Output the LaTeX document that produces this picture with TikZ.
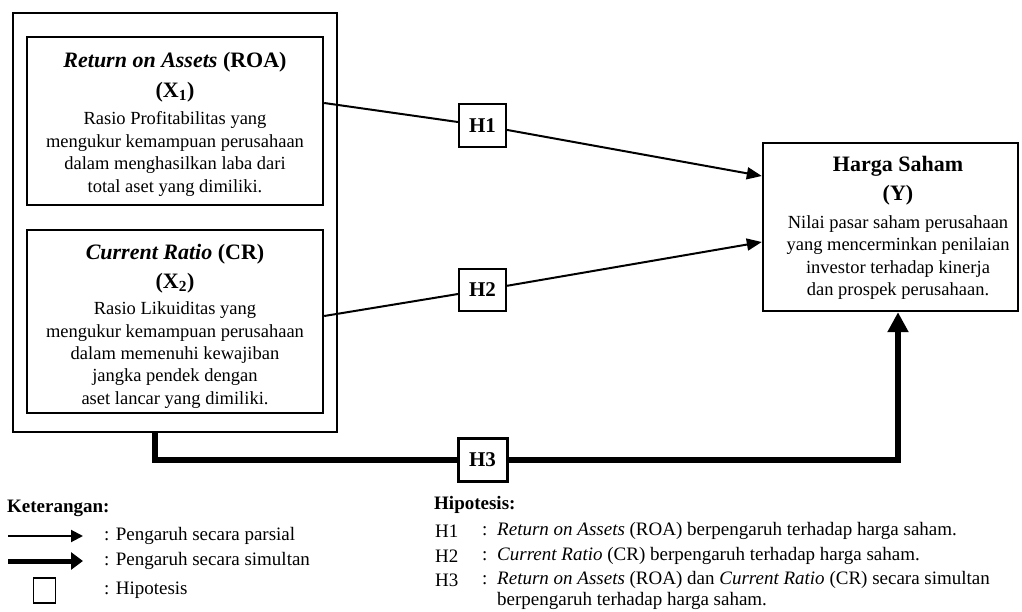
\documentclass[tikz,border=0pt]{standalone}
\usepackage{fontspec}
\setmainfont{Liberation Serif}
\usetikzlibrary{arrows.meta,calc}
\begin{document}
\begin{tikzpicture}[x=1pt,y=-1pt,
  outerbox/.style={draw,line width=2.6pt,inner sep=0pt},
  varbox/.style={draw,line width=2.4pt,inner sep=0pt},
  hbox/.style={draw,line width=2.2pt,inner sep=0pt,minimum width=47pt,minimum height=43pt,font=\fontsize{21}{24}\selectfont\bfseries},
  thinarrow/.style={line width=2pt,-{Triangle[length=15pt,width=12pt]}},
  thickline/.style={line width=6pt},
  thickarrow/.style={line width=6pt,-{Triangle[length=20pt,width=20pt]}},
  ttl/.style={inner sep=0pt,font=\fontsize{22}{26}\selectfont\bfseries},
  body/.style={inner sep=0pt,align=center,font=\fontsize{18.5}{22.4}\selectfont},
  leg/.style={inner sep=0pt,anchor=west,font=\fontsize{19}{23}\selectfont},
  legb/.style={inner sep=0pt,anchor=west,font=\fontsize{19}{23}\selectfont\bfseries}]
\fill[white] (0,0) rectangle (1022,612);
\useasboundingbox (0,0) rectangle (1022,612);

% left boxes
\node[outerbox,minimum width=324pt,minimum height=419pt] (O) at (175,222.5) {};
\node[varbox,minimum width=296pt,minimum height=168pt] (A) at (175,121) {};
\node[varbox,minimum width=296pt,minimum height=183pt] (B) at (175,321.5) {};

\node[ttl] (At) at (175,62.5) {\textit{Return on Assets} (ROA)};
\node[ttl] (Ax) at (175,92.5) {(X\textsubscript{1})};
\node[body] (Ab) at (175,154) {Rasio Profitabilitas yang\\mengukur kemampuan perusahaan\\dalam menghasilkan laba dari\\total aset yang dimiliki.};

\node[ttl] (Bt) at (175,254) {\textit{Current Ratio} (CR)};
\node[ttl] (Bx) at (175,283.5) {(X\textsubscript{2})};
\node[body] (Bb) at (175,355) {Rasio Likuiditas yang\\mengukur kemampuan perusahaan\\dalam memenuhi kewajiban\\jangka pendek dengan\\aset lancar yang dimiliki.};

% right box
\node[varbox,minimum width=255pt,minimum height=168pt] (Y) at (890.5,227) {};
\node[ttl] (Yt) at (898,166) {Harga Saham};
\node[ttl] (Yx) at (898,195.5) {(Y)};
\node[body] (Yb) at (898,257.5) {Nilai pasar saham perusahaan\\yang mencerminkan penilaian\\investor terhadap kinerja\\dan prospek perusahaan.};

% hypothesis boxes
\node[hbox] (H1) at (482.5,125.5) {H1};
\node[hbox,minimum height=42pt] (H2) at (482.5,290) {H2};
\node[hbox,line width=3pt,minimum width=49pt,minimum height=43pt] (H3) at (482.5,460) {H3};

% connectors
\coordinate (a1) at ([yshift=18pt]A.east);
\coordinate (y1) at ([yshift=51pt]Y.west);
\coordinate (b1) at ([yshift=5.5pt]B.east);
\coordinate (y2) at ([yshift=-15pt]Y.west);
\coordinate (o1) at ([xshift=-20pt]O.south);
\coordinate (y3) at ([xshift=7.5pt]Y.south);

\draw[line width=2pt] (a1) -- (H1);
\draw[thinarrow] (H1) -- (y1);
\draw[line width=2pt] (b1) -- (H2);
\draw[thinarrow] (H2) -- (y2);
\draw[thickline] (o1) |- (H3);
\draw[thickarrow] (H3) -| (y3);

% legend
\node[legb] (ket) at (7,508) {Keterangan:};
\coordinate (l1a) at (8,536);
\coordinate (l1b) at (83,536);
\draw[thinarrow,-{Triangle[length=12pt,width=12pt]}] (l1a) -- (l1b);
\coordinate (l2a) at (8,561);
\coordinate (l2b) at (83,561);
\draw[line width=5pt,-{Triangle[length=12pt,width=17pt]}] (l2a) -- (l2b);
\node[draw,line width=1.2pt,minimum width=22pt,minimum height=25pt,inner sep=0pt] (lbox) at (44.5,590.5) {};
\node[leg] (k1) at (104,536) {: Pengaruh secara parsial};
\node[leg] (k2) at (104,561) {: Pengaruh secara simultan};
\node[leg] (k3) at (104,590) {: Hipotesis};

% hypotheses list
\node[legb] (hip) at (434,505) {Hipotesis:};
\node[leg] (h1l) at (435,531) {H1};
\node[leg] (h1c) at (482,531) {:};
\node[leg] (h1t) at (497,531) {\textit{Return on Assets} (ROA) berpengaruh terhadap harga saham.};
\node[leg] (h2l) at (435,556) {H2};
\node[leg] (h2c) at (482,556) {:};
\node[leg] (h2t) at (497,556) {\textit{Current Ratio} (CR) berpengaruh terhadap harga saham.};
\node[leg] (h3l) at (435,580) {H3};
\node[leg] (h3c) at (482,580) {:};
\node[leg] (h3t) at (497,580) {\textit{Return on Assets} (ROA) dan \textit{Current Ratio} (CR) secara simultan};
\node[leg] (h3u) at (497,601) {berpengaruh terhadap harga saham.};
\end{tikzpicture}
\end{document}
